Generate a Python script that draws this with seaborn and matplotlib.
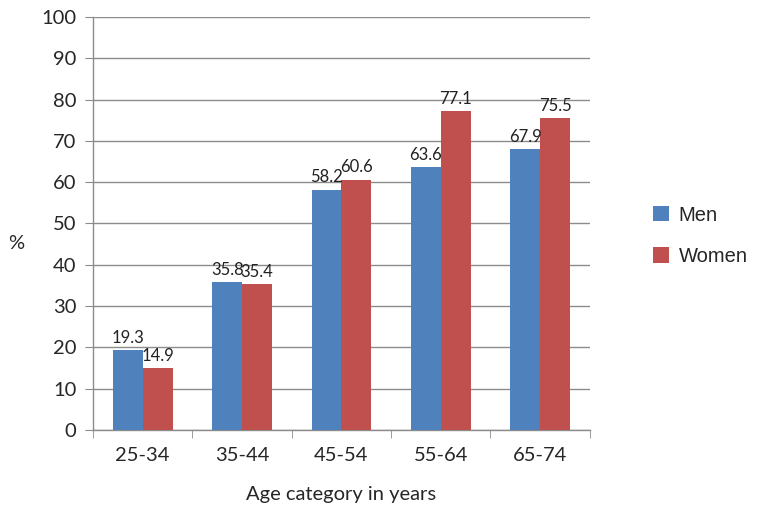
import numpy as np
import pandas as pd
import matplotlib
matplotlib.use("Agg")
import matplotlib.pyplot as plt
import seaborn as sns

ages = ["25-34", "35-44", "45-54", "55-64", "65-74"]
men = [19.3, 35.8, 58.2, 63.6, 67.9]
women = [14.9, 35.4, 60.6, 77.1, 75.5]

df = pd.DataFrame({
    "age": ages * 2,
    "value": men + women,
    "sex": ["Men"] * len(ages) + ["Women"] * len(ages),
})

sns.set_style("white")
plt.rcParams["font.family"] = ["Lato", "DejaVu Sans"]

fig = plt.figure(figsize=(7.69, 5.13), dpi=100)
ax = fig.add_axes([0.121, 0.162, 0.646, 0.805])

sns.barplot(data=df, x="age", y="value", hue="sex", order=ages,
            palette={"Men": "#4F81BD", "Women": "#C0504D"},
            width=0.6, saturation=1, linewidth=0, ax=ax, zorder=3)

for cont in ax.containers:
    ax.bar_label(cont, fmt="%.1f", padding=3, fontsize=12, color="#222222")

ax.set_ylim(0, 100)
ax.set_yticks(np.arange(0, 101, 10))
ax.set_xlim(-0.5, len(ages) - 0.5)
ax.yaxis.grid(True, color="#8c8c8c", linewidth=1, zorder=0)
ax.set_axisbelow(True)

for s in ["top", "right"]:
    ax.spines[s].set_visible(False)
for s in ["left", "bottom"]:
    ax.spines[s].set_color("#8c8c8c")
    ax.spines[s].set_linewidth(1)

ax.tick_params(axis="y", length=6, color="#8c8c8c", labelsize=14.5, pad=6, left=True)
ax.tick_params(axis="x", which="major", length=0, labelsize=14.5, pad=12)
ax.set_xticks(np.arange(-0.5, len(ages)), minor=True)
ax.tick_params(axis="x", which="minor", length=6, color="#8c8c8c", bottom=True)

ax.set_xlabel("Age category in years", fontsize=14.5, labelpad=16)
ax.set_ylabel("%", fontsize=14.5, rotation=0, labelpad=0)
ax.yaxis.set_label_coords(-0.155, 0.43)

leg = ax.legend(loc="center left", bbox_to_anchor=(1.09, 0.47), frameon=False,
                handlelength=0.8, handleheight=0.8,
                handletextpad=0.5, labelspacing=1.1,
                prop={"family": "Liberation Sans", "size": 14.5})

fig.savefig("out.png", dpi=100)
